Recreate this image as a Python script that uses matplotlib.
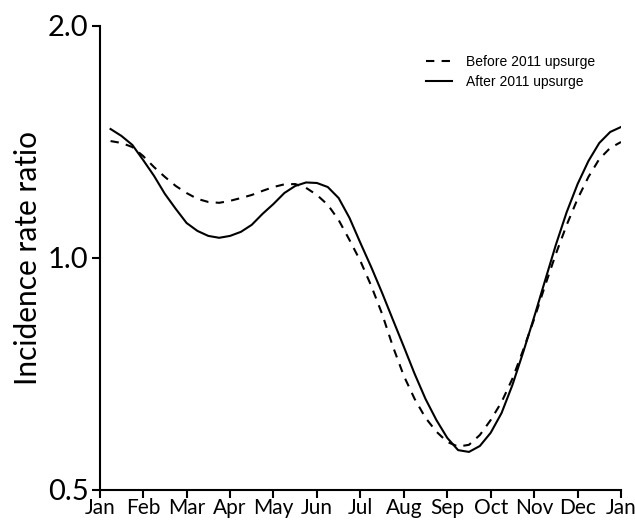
# ------------------------- Libraries -------------------------
import numpy as np
import matplotlib
matplotlib.use('Agg')
import matplotlib.pyplot as plt
from matplotlib.ticker import FixedLocator, NullLocator

# ------------------------- Data -------------------------
# position in months since Jan 1 (0 = Jan, 12 = next Jan), quarter-month steps
months_pos = list(np.arange(0.25, 12.01, 0.25))

before_upsurge = [1.418, 1.410, 1.393, 1.356, 1.312, 1.274, 1.240, 1.214,
                  1.193, 1.182, 1.179, 1.186, 1.196, 1.207, 1.222, 1.236,
                  1.246, 1.247, 1.233, 1.207, 1.172, 1.120, 1.055, 0.991,
                  0.920, 0.846, 0.767, 0.703, 0.656, 0.620, 0.595, 0.577,
                  0.569, 0.572, 0.589, 0.616, 0.650, 0.697, 0.760, 0.833,
                  0.920, 1.012, 1.104, 1.193, 1.274, 1.344, 1.389, 1.414]

after_upsurge = [1.470, 1.440, 1.402, 1.340, 1.278, 1.211, 1.158, 1.110,
                 1.084, 1.068, 1.062, 1.068, 1.081, 1.104, 1.141, 1.175,
                 1.214, 1.240, 1.253, 1.251, 1.236, 1.196, 1.127, 1.046,
                 0.973, 0.901, 0.831, 0.767, 0.707, 0.656, 0.616, 0.584,
                 0.563, 0.560, 0.570, 0.593, 0.629, 0.684, 0.755, 0.838,
                 0.934, 1.040, 1.147, 1.247, 1.336, 1.410, 1.457, 1.479]

month_labels = ['Jan', 'Feb', 'Mar', 'Apr', 'May', 'Jun', 'Jul',
                'Aug', 'Sep', 'Oct', 'Nov', 'Dec', 'Jan']
y_ticks = [0.5, 1.0, 2.0]
y_tick_labels = ['0.5', '1.0', '2.0']

# ------------------------- Plot -------------------------
plt.rcParams['font.family'] = ['Lato', 'DejaVu Sans']

fig = plt.figure(figsize=(6.35, 5.2), dpi=100)
ax = fig.add_axes([0.157, 0.058, 0.821, 0.892])

ax.plot(months_pos, before_upsurge, color='black', linewidth=1.5,
        linestyle=(0, (4, 3.5)), label='Before 2011 upsurge')
ax.plot(months_pos, after_upsurge, color='black', linewidth=1.5,
        linestyle='-', label='After 2011 upsurge')

ax.set_yscale('log', base=2)
ax.set_ylim(0.5, 2.0)
ax.set_xlim(0, 12)

ax.yaxis.set_major_locator(FixedLocator(y_ticks))
ax.yaxis.set_minor_locator(NullLocator())
ax.set_yticklabels(y_tick_labels, fontsize=21)

ax.set_xticks(np.arange(len(month_labels)))
ax.set_xticklabels(month_labels, fontsize=15)

ax.tick_params(axis='both', direction='out', length=6, width=1.5, color='black')
ax.tick_params(axis='x', pad=0)
ax.tick_params(axis='y', pad=2)

for side in ['top', 'right']:
    ax.spines[side].set_visible(False)
for side in ['left', 'bottom']:
    ax.spines[side].set_linewidth(1.5)
    ax.spines[side].set_color('black')

ax.set_ylabel('Incidence rate ratio', fontsize=21.5, labelpad=4)

leg = ax.legend(loc='upper left', bbox_to_anchor=(0.615, 0.95), borderaxespad=0,
                frameon=False, prop={'family': 'Liberation Sans', 'size': 10},
                handlelength=1.9, handletextpad=1.0, labelspacing=0.45)

fig.savefig('out.png', dpi=100)
